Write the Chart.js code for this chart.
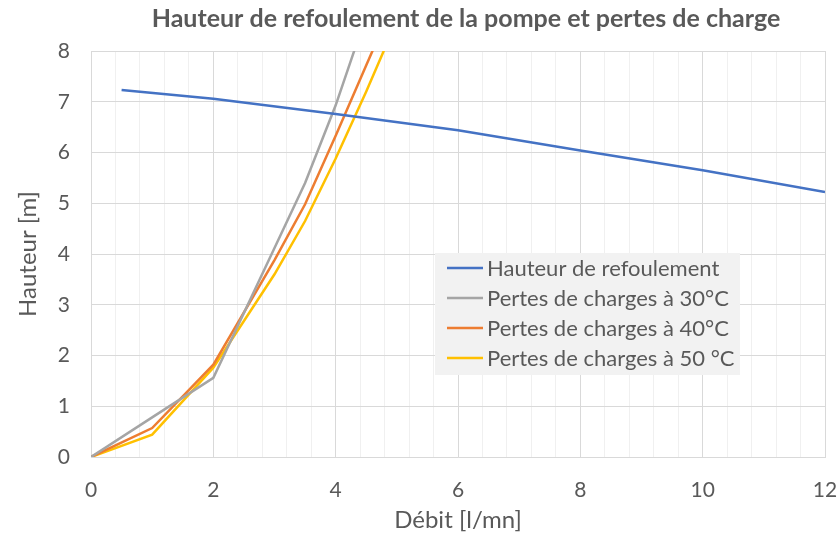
<!DOCTYPE html>
<html>
<head>
<meta charset="utf-8">
<script src="https://cdn.jsdelivr.net/npm/chart.js@4"></script>
<style>
  html, body { margin: 0; padding: 0; background: #fff; }
  #wrap { width: 837px; height: 537px; }
</style>
</head>
<body>
<div id="wrap"><canvas id="pumpChart" width="837" height="537"></canvas></div>
<script>
// Data
const hauteurX = [0.5, 2, 4, 6, 8, 10, 12];
const hauteurY = [7.23, 7.06, 6.76, 6.44, 6.04, 5.65, 5.22];

const pertesX = [0, 1, 2, 3, 3.5, 4, 4.5];
const pertes30 = [0, 0.78, 1.56, 4.12, 5.40, 6.93, 8.7];
const pertes40 = [0, 0.57, 1.82, 3.88, 4.98, 6.33, 7.72];
const pertes50 = [0, 0.44, 1.76, 3.60, 4.65, 5.88, 7.20];
const pertes50X = [0, 1, 2, 3, 3.5, 4, 4.5, 5];
const pertes50Y = pertes50.concat([8.6]);
const pertes40X = pertesX.concat([5]);
const pertes40Y = pertes40.concat([9.1]);

const seriesNames = ['Hauteur de refoulement', 'Pertes de charges à 30°C', 'Pertes de charges à 40°C', 'Pertes de charges à 50 °C'];
const seriesColors = ['#4472C4', '#A5A5A5', '#ED7D31', '#FFC000'];

const titleText = 'Hauteur de refoulement de la pompe et pertes de charge';
const FONT = 'Lato, "Open Sans", sans-serif';
const TEXT_COLOR = '#595959';

function toPoints(xs, ys) {
    return xs.map((x, i) => ({ x: x, y: ys[i] }));
}

const isMajorX = v => Math.abs(v / 2 - Math.round(v / 2)) < 1e-6;

// title drawn centred over the plot
const titlePlugin = {
    id: 'excelTitle',
    afterDraw(chart) {
        const ctx = chart.ctx;
        ctx.save();
        ctx.font = 'bold 25px ' + FONT;
        ctx.fillStyle = TEXT_COLOR;
        ctx.textAlign = 'center';
        ctx.textBaseline = 'middle';
        ctx.fillText(titleText, 466, 19);
        ctx.restore();
    }
};

// legend box inside the plot area
const legendPlugin = {
    id: 'boxLegend',
    afterDraw(chart) {
        const ctx = chart.ctx;
        const x0 = 435, y0 = 253, w = 305, h = 122;
        ctx.save();
        ctx.fillStyle = '#F2F2F2';
        ctx.fillRect(x0, y0, w, h);
        ctx.font = '22px ' + FONT;
        ctx.textBaseline = 'middle';
        chart.data.datasets.forEach((ds, i) => {
            const y = y0 + 15 + i * 30;
            ctx.strokeStyle = ds.borderColor;
            ctx.lineWidth = 2.5;
            ctx.beginPath();
            ctx.moveTo(x0 + 12, y);
            ctx.lineTo(x0 + 48, y);
            ctx.stroke();
            ctx.fillStyle = TEXT_COLOR;
            ctx.fillText(ds.label, x0 + 52, y + 1);
        });
        ctx.restore();
    }
};

const ctx = document.getElementById('pumpChart').getContext('2d');
new Chart(ctx, {
    type: 'line',
    data: {
        datasets: [
            { label: seriesNames[0], data: toPoints(hauteurX, hauteurY), borderColor: seriesColors[0] },
            { label: seriesNames[1], data: toPoints(pertesX, pertes30), borderColor: seriesColors[1] },
            { label: seriesNames[2], data: toPoints(pertes40X, pertes40Y), borderColor: seriesColors[2] },
            { label: seriesNames[3], data: toPoints(pertes50X, pertes50Y), borderColor: seriesColors[3] }
        ]
    },
    options: {
        responsive: false,
        animation: false,
        datasets: {
            line: { borderWidth: 2.5, pointRadius: 0, tension: 0, fill: false }
        },
        layout: { padding: { top: 51, right: 12, left: 0, bottom: 0 } },
        plugins: {
            legend: { display: false },
            title: { display: false },
            tooltip: { enabled: false }
        },
        scales: {
            x: {
                type: 'linear',
                min: 0,
                max: 12,
                ticks: {
                    stepSize: 0.4,
                    autoSkip: false,
                    maxRotation: 0,
                    padding: 21,
                    color: TEXT_COLOR,
                    font: { family: FONT, size: 21 },
                    callback: v => isMajorX(v) ? String(Math.round(v)) : ''
                },
                grid: {
                    color: c => isMajorX(c.tick.value) ? '#D9D9D9' : '#F0F0F0',
                    lineWidth: 1,
                    drawTicks: false
                },
                border: { color: '#D9D9D9' },
                title: {
                    display: true,
                    text: 'Débit [l/mn]',
                    color: TEXT_COLOR,
                    font: { family: FONT, size: 24 },
                    padding: { top: 0, bottom: 2 }
                },
                afterFit: s => { s.height = 80; s.paddingLeft = 0; s.paddingRight = 0; }
            },
            y: {
                min: 0,
                max: 8,
                ticks: {
                    stepSize: 1,
                    padding: 21,
                    color: TEXT_COLOR,
                    font: { family: FONT, size: 21 }
                },
                grid: { color: '#D9D9D9', lineWidth: 1, drawTicks: false },
                border: { color: '#D9D9D9' },
                title: {
                    display: true,
                    text: 'Hauteur [m]',
                    color: TEXT_COLOR,
                    font: { family: FONT, size: 24 },
                    padding: { top: 14, bottom: 0 }
                },
                afterFit: s => { s.width = 91; s.paddingTop = 0; s.paddingBottom = 0; }
            }
        }
    },
    plugins: [titlePlugin, legendPlugin]
});
</script>
</body>
</html>
